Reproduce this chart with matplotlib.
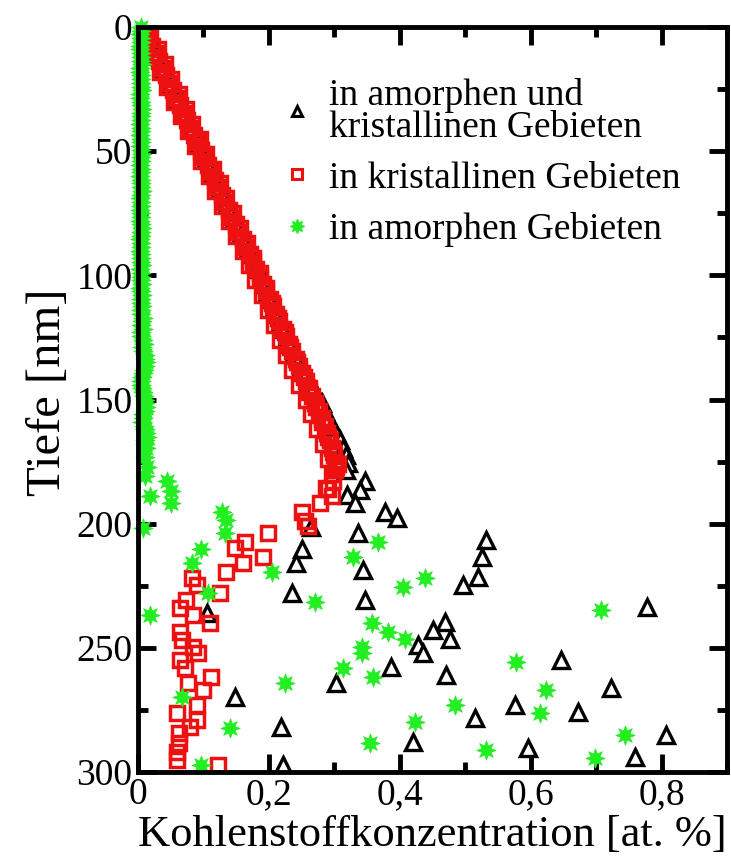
import matplotlib
matplotlib.use("Agg")
import matplotlib.pyplot as plt
from matplotlib.lines import Line2D
from matplotlib.ticker import MultipleLocator, FixedLocator

plt.rcParams['font.family'] = ['Liberation Serif', 'DejaVu Serif']

# ---------------- data ----------------
# crystalline regions (red squares): near-linear band, then tail
red_depth = [0, 3, 6, 9, 12, 15, 18, 21, 24, 27, 30, 33, 36, 39, 42, 45, 48, 51, 54, 57,
             60, 63, 66, 69, 72, 75, 78, 81, 84, 87, 90, 93, 96, 99, 102, 105, 108, 111, 114, 117,
             120, 123, 126, 129, 132, 135, 138, 141, 144, 147, 150, 153, 156, 159, 162, 165, 168, 171, 174, 177, 180,
             176, 183, 186, 189, 185.7, 191.7, 195.2, 199, 201, 203.9, 207.3, 209.8, 213.3, 216, 219.3,
             222, 224.7, 228, 230.8, 234, 236.9, 240, 243.5, 246.8, 249.6, 252.2, 254.9, 258.2, 261.6,
             264.3, 267, 273, 276.4, 279, 281.8, 284.4, 288.5, 291.8, 295.2, 297.2]
red_conc = [0.004, 0.019, 0.012, 0.030, 0.023, 0.041, 0.034, 0.051, 0.045, 0.062, 0.055, 0.073, 0.066, 0.083, 0.077,
            0.094, 0.087, 0.104, 0.097, 0.114, 0.108, 0.125, 0.118, 0.135, 0.128, 0.145, 0.139, 0.156, 0.149, 0.166,
            0.160, 0.176, 0.170, 0.186, 0.179, 0.195, 0.189, 0.205, 0.198, 0.214, 0.208, 0.224, 0.217, 0.233, 0.226,
            0.243, 0.236, 0.253, 0.246, 0.262, 0.256, 0.272, 0.264, 0.281, 0.274, 0.290, 0.283, 0.298, 0.290, 0.302, 0.296,
            0.305, 0.298, 0.290, 0.296, 0.288, 0.278, 0.250, 0.255, 0.260, 0.199, 0.163, 0.148, 0.191, 0.161, 0.135,
            0.082, 0.090, 0.125, 0.074, 0.064, 0.084, 0.110, 0.064, 0.067, 0.084, 0.092, 0.064, 0.072, 0.112,
            0.077, 0.100, 0.090, 0.059, 0.090, 0.079, 0.062, 0.062, 0.059, 0.059, 0.123]
red_band_depth = [1.5, 4.5, 7.5, 10.5, 13.5, 16.5, 19.5, 22.5, 25.5, 28.5, 31.5, 34.5, 37.5, 40.5, 43.5, 46.5,
                  49.5, 52.5, 55.5, 58.5, 61.5, 64.5, 67.5, 70.5, 73.5, 76.5, 79.5, 82.5, 85.5, 88.5, 91.5,
                  94.5, 97.5, 100.5, 103.5, 106.5, 109.5, 112.5, 115.5, 118.5, 121.5, 124.5, 127.5, 130.5,
                  133.5, 136.5, 139.5, 142.5, 145.5, 148.5, 151.5, 154.5, 157.5, 160.5, 163.5, 166.5, 169.5,
                  172.5, 175.5, 178.5]
red_band_conc = [0.010, 0.016, 0.021, 0.027, 0.032, 0.037, 0.043, 0.048, 0.053, 0.059, 0.064, 0.069, 0.075,
                 0.080, 0.085, 0.091, 0.096, 0.101, 0.107, 0.112, 0.117, 0.123, 0.128, 0.133, 0.139, 0.144,
                 0.149, 0.155, 0.160, 0.165, 0.171, 0.176, 0.181, 0.186, 0.191, 0.196, 0.201, 0.206, 0.211,
                 0.216, 0.221, 0.226, 0.231, 0.236, 0.241, 0.246, 0.251, 0.256, 0.261, 0.266, 0.271, 0.276,
                 0.281, 0.285, 0.289, 0.293, 0.297, 0.300, 0.302, 0.301]

# amorphous + crystalline regions (black triangles)
blk_depth = [1.5, 4.5, 7.5, 10.5, 13.5, 16.5, 19.5, 22.5, 25.5, 28.5, 31.5, 34.5, 37.5, 40.5, 43.5, 46.5, 49.5,
             52.5, 55.5, 58.5, 61.5, 64.5, 67.5, 70.5, 73.5, 76.5, 79.5, 82.5, 85.5, 88.5, 91.5, 94.5, 97.5,
             100.5, 103.5, 106.5, 109.5, 112.5, 115.5, 118.5, 121.5, 124.5, 127.5, 130.5, 133.5, 136.5, 139.5,
             142.5, 145.5, 148.5, 151.5, 154.5, 157.5, 160.5, 163.5, 166.5, 169.5, 172.5, 175.5, 178.5,
             183, 186.5, 188.5, 191.8, 195.2, 197.9, 201.2, 203.9, 210, 216, 218.7, 228, 230.8, 236,
             257.6, 264.3, 269.7, 281.8, 287.8, 297.2,
             206.6, 213.3, 221.4, 224.7, 233.5, 239.5, 242.9, 246.3, 248.9, 252.2, 254.9, 261, 266.3,
             273, 275.7, 278.4, 285.2, 290.5, 293.9]
blk_conc = [0.012, 0.020, 0.025, 0.031, 0.036, 0.042, 0.047, 0.052, 0.058, 0.063, 0.068, 0.074, 0.079, 0.084, 0.090,
            0.095, 0.100, 0.106, 0.111, 0.116, 0.122, 0.127, 0.132, 0.138, 0.143, 0.148, 0.153, 0.159, 0.164, 0.169,
            0.174, 0.180, 0.185, 0.190, 0.194, 0.199, 0.204, 0.209, 0.214, 0.219, 0.224, 0.229, 0.234, 0.240, 0.246,
            0.251, 0.257, 0.262, 0.268, 0.274, 0.281, 0.286, 0.291, 0.297, 0.303, 0.309, 0.314, 0.318, 0.321, 0.318,
            0.347, 0.339, 0.319, 0.331, 0.377, 0.395, 0.265, 0.336, 0.250, 0.242, 0.344, 0.235, 0.347, 0.105,
            0.387, 0.303, 0.148, 0.219, 0.420, 0.222,
            0.532, 0.525, 0.520, 0.497, 0.777, 0.469, 0.451, 0.476, 0.428, 0.436, 0.647, 0.471, 0.723,
            0.576, 0.672, 0.515, 0.807, 0.596, 0.759]

# amorphous regions (green stars)
grn_depth = [0, 3, 6, 9, 12, 15, 18, 21, 24, 27, 30, 33, 36, 39, 42, 45, 48, 51, 54, 57, 60, 63, 66, 69, 72,
             75, 78, 81, 84, 87, 90, 93, 96, 99, 102, 105, 108, 111, 114, 117, 120, 123, 126, 129, 132, 135,
             138, 141, 144, 147, 150, 153, 156, 159, 162, 165, 168,
             173, 177, 181, 183, 187, 189, 191.8, 195.2, 198.5, 203.9, 201.9, 210, 216, 219.3, 228, 231.4,
             236.9, 264.3, 269.7, 282.4, 297.2,
             207.3, 213.3, 222, 225.4, 234.8, 240.2, 243.5, 246.3, 249.6, 252.2, 258.2, 261.6, 255.6, 267,
             276.4, 273, 279.8, 288.5, 291.2, 285.2, 294.5]
grn_conc = [0.004, 0.003, 0.005, 0.003, 0.004, 0.006, 0.003, 0.004, 0.005, 0.003, 0.004, 0.006, 0.004, 0.003,
            0.005, 0.004, 0.003, 0.006, 0.004, 0.005, 0.003, 0.004, 0.006, 0.003, 0.005, 0.004, 0.003, 0.006,
            0.004, 0.005, 0.003, 0.004, 0.006, 0.005, 0.004, 0.003, 0.006, 0.005, 0.004, 0.007, 0.005, 0.004,
            0.008, 0.006, 0.010, 0.012, 0.009, 0.006, 0.004, 0.008, 0.010, 0.012, 0.008, 0.006, 0.011, 0.013, 0.010,
            0.011, 0.013, 0.011, 0.044, 0.051, 0.018, 0.051, 0.128, 0.135, 0.133, 0.008, 0.097, 0.082, 0.204,
            0.107, 0.270, 0.018, 0.224, 0.067, 0.140, 0.097,
            0.367, 0.329, 0.438, 0.405, 0.708, 0.357, 0.382, 0.408, 0.342, 0.342, 0.313, 0.359, 0.578, 0.624,
            0.614, 0.484, 0.423, 0.354, 0.532, 0.744, 0.698]
grn_band_depth = [1.5, 4.5, 7.5, 10.5, 13.5, 16.5, 19.5, 22.5, 25.5, 28.5, 31.5, 34.5, 37.5, 40.5, 43.5, 46.5,
                  49.5, 52.5, 55.5, 58.5, 61.5, 64.5, 67.5, 70.5, 73.5, 76.5, 79.5, 82.5, 85.5, 88.5, 91.5,
                  94.5, 97.5, 100.5, 103.5, 106.5, 109.5, 112.5, 115.5, 118.5, 121.5, 124.5, 127.5, 130.5,
                  133.5, 136.5, 139.5, 142.5, 145.5, 148.5, 151.5, 154.5, 157.5, 160.5, 163.5, 166.5, 169.5]
grn_band_conc = [0.005, 0.004, 0.003, 0.005, 0.004, 0.003, 0.005, 0.004, 0.006, 0.003, 0.005, 0.004, 0.005,
                 0.004, 0.003, 0.005, 0.004, 0.005, 0.003, 0.004, 0.005, 0.004, 0.005, 0.004, 0.003, 0.005,
                 0.004, 0.005, 0.003, 0.004, 0.005, 0.004, 0.003, 0.005, 0.006, 0.004, 0.005, 0.006, 0.005,
                 0.006, 0.007, 0.005, 0.009, 0.008, 0.011, 0.010, 0.007, 0.005, 0.006, 0.009, 0.011, 0.010,
                 0.007, 0.009, 0.012, 0.011, 0.012]

labels = ["in amorphen und\nkristallinen Gebieten", "in kristallinen Gebieten", "in amorphen Gebieten"]
x_ticks = [0, 0.2, 0.4, 0.6, 0.8]
x_ticklabels = ["0", "0,2", "0,4", "0,6", "0,8"]
y_ticks = [0, 50, 100, 150, 200, 250, 300]
y_ticklabels = ["0", "50", "100", "150", "200", "250", "300"]

# ---------------- plot ----------------
GREEN = "#22ee22"
RED = "#ee1111"
fig = plt.figure(figsize=(7.31, 8.58), dpi=100)
ax = fig.add_axes([138/731, 86/858, 589/731, 745/858])

ax.plot(blk_conc, blk_depth, ls='none', marker='^', ms=11, mfc='white', mec='black', mew=2.4, zorder=2)
ax.plot(red_band_conc + red_conc, red_band_depth + red_depth, ls='none', marker='s', ms=10,
        mfc='none', mec=RED, mew=2.5, zorder=3)
ax.plot(grn_band_conc + grn_conc, grn_band_depth + grn_depth, ls='none', marker=(8, 1, 0), ms=14,
        mfc=GREEN, mec=GREEN, mew=0.5, zorder=4, clip_on=False)

ax.set_xlim(0, 0.9)
ax.set_ylim(300, 0)
ax.xaxis.set_major_locator(FixedLocator(x_ticks))
ax.set_xticklabels(x_ticklabels)
ax.xaxis.set_minor_locator(MultipleLocator(0.1))
ax.yaxis.set_major_locator(FixedLocator(y_ticks))
ax.set_yticklabels(y_ticklabels)
ax.yaxis.set_minor_locator(MultipleLocator(25))

ax.tick_params(which='both', direction='in', top=True, right=True, labelsize=27, width=3.5)
ax.tick_params(which='major', length=13, pad=4)
ax.tick_params(which='minor', length=7)
for s in ax.spines.values():
    s.set_linewidth(3.5)
    s.set_zorder(5)

ax.set_xlabel("Kohlenstoffkonzentration [at. %]", fontsize=32, labelpad=2)
ax.set_ylabel("Tiefe [nm]", fontsize=35)
ax.yaxis.set_label_coords(-0.115, 0.51)

handles = [Line2D([], [], ls='none', marker='^', ms=7, mfc='white', mec='black', mew=2.2),
           Line2D([], [], ls='none', marker='s', ms=7, mfc='none', mec=RED, mew=2.2),
           Line2D([], [], ls='none', marker=(8, 1, 0), ms=10, mfc=GREEN, mec=GREEN)]
leg = ax.legend(handles, labels, loc='upper left', bbox_to_anchor=(0.223, 0.952), frameon=False,
                fontsize=27, handlelength=0.7, handletextpad=0.5, labelspacing=0.44, borderaxespad=0)
for t in leg.get_texts():
    t.set_linespacing(0.9)

fig.savefig("out.png", dpi=100)
